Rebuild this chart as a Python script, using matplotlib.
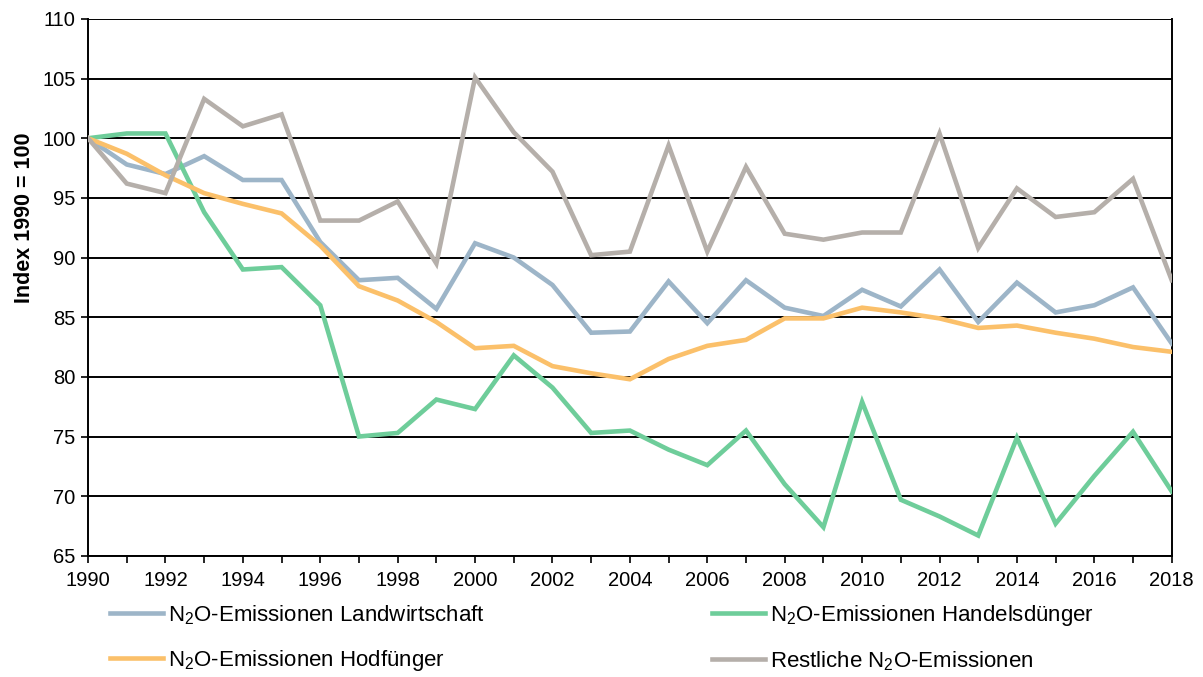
import matplotlib
matplotlib.use("Agg")
import matplotlib.pyplot as plt
from matplotlib.ticker import MultipleLocator

plt.rcParams['font.family'] = ['Liberation Sans', 'DejaVu Sans']
plt.rcParams['mathtext.fontset'] = 'custom'
plt.rcParams['mathtext.rm'] = 'Liberation Sans'

years = list(range(1990, 2019))

# index values, 1990 = 100
landwirtschaft = [100, 97.8, 97.0, 98.5, 96.5, 96.5, 91.3, 88.1, 88.3, 85.7,
                  91.2, 90.0, 87.7, 83.7, 83.8, 88.0, 84.5, 88.1, 85.8, 85.1,
                  87.3, 85.9, 89.0, 84.6, 87.9, 85.4, 86.0, 87.5, 82.8]
handelsduenger = [100, 100.4, 100.4, 93.8, 89.0, 89.2, 86.0, 75.0, 75.3, 78.1,
                  77.3, 81.8, 79.1, 75.3, 75.5, 73.9, 72.6, 75.5, 71.0, 67.4,
                  77.9, 69.7, 68.3, 66.7, 74.9, 67.7, 71.7, 75.4, 70.4]
hofduenger = [100, 98.7, 96.9, 95.4, 94.5, 93.7, 91.0, 87.6, 86.4, 84.6,
              82.4, 82.6, 80.9, 80.3, 79.8, 81.5, 82.6, 83.1, 84.9, 84.9,
              85.8, 85.4, 84.9, 84.1, 84.3, 83.7, 83.2, 82.5, 82.1]
restliche = [100, 96.2, 95.4, 103.3, 101.0, 102.0, 93.1, 93.1, 94.7, 89.5,
             105.1, 100.5, 97.2, 90.2, 90.5, 99.4, 90.5, 97.6, 92.0, 91.5,
             92.1, 92.1, 100.4, 90.8, 95.8, 93.4, 93.8, 96.6, 88.1]

n2o = r'N$_\mathregular{2}$O'
labels = [n2o + '-Emissionen Landwirtschaft',
          n2o + '-Emissionen Handelsdünger',
          n2o + '-Emissionen Hodfünger',
          'Restliche ' + n2o + '-Emissionen']
colors = ['#9db5c8', '#6ecd9a', '#fbc06a', '#b5afaa']
series = [landwirtschaft, handelsduenger, hofduenger, restliche]

fig = plt.figure(figsize=(12.03, 6.77), dpi=100)
ax = fig.add_axes([0.0732, 0.179, 0.9008, 0.793])

lines = []
for s, c, lab in zip(series, colors, labels):
    l, = ax.plot(years, s, color=c, lw=3.3, label=lab, solid_joinstyle='miter', zorder=3)
    lines.append(l)

ax.set_xlim(1990, 2018)
ax.set_ylim(65, 110)
ax.xaxis.set_major_locator(MultipleLocator(2))
ax.xaxis.set_minor_locator(MultipleLocator(1))
ax.yaxis.set_major_locator(MultipleLocator(5))
ax.grid(axis='y', color='black', lw=1.4, zorder=1)
ax.tick_params(axis='x', which='both', direction='out', length=5, width=1.2,
               labelsize=14.5, pad=6)
ax.tick_params(axis='y', direction='out', length=5, width=1.2, labelsize=14.5, pad=4)
for side in ['left', 'bottom', 'right']:
    ax.spines[side].set_color('black')
    ax.spines[side].set_linewidth(1.4)
ax.spines['top'].set_visible(False)

# y label sits above the axes centre in the original
fig.text(25 / 1203, 1 - 218 / 677, 'Index 1990 = 100', rotation=90,
         ha='center', va='center', fontsize=15.5, fontweight='bold')

leg_kw = dict(frameon=False, fontsize=16, handlelength=2.4, handletextpad=0.2,
              labelspacing=0.95, borderpad=0, borderaxespad=0, loc='upper left')
fig.legend([lines[0], lines[2]], [labels[0], labels[2]],
           bbox_to_anchor=(110 / 1203, 1 - 603 / 677), **leg_kw)
fig.legend([lines[1], lines[3]], [labels[1], labels[3]],
           bbox_to_anchor=(712 / 1203, 1 - 603 / 677), **leg_kw)

fig.savefig('out.png', dpi=100)
